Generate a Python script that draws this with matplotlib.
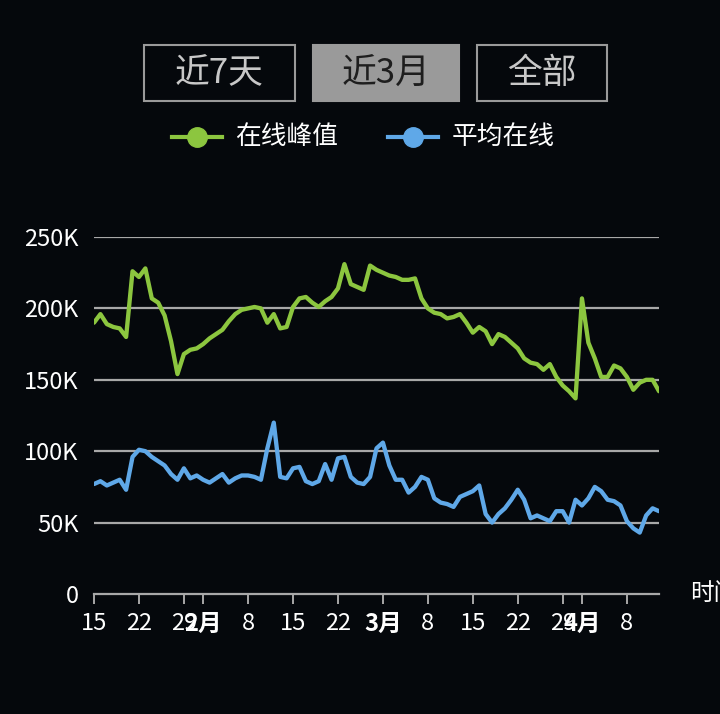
import numpy as np
import matplotlib.pyplot as plt
from matplotlib.patches import Rectangle
from matplotlib.lines import Line2D

plt.rcParams['font.family'] = ['Noto Sans CJK SC', 'DejaVu Sans']

# days counted from Jan 15
days = np.arange(89)

peak_online = [190, 196, 189, 187, 186, 180, 226, 222, 228, 207,
               204, 195, 177, 154, 168, 171, 172, 175, 179, 182,
               185, 191, 196, 199, 200, 201, 200, 190, 196, 186,
               187, 201, 207, 208, 204, 201, 205, 208, 214, 231,
               217, 215, 213, 230, 227, 225, 223, 222, 220, 220,
               221, 207, 200, 197, 196, 193, 194, 196, 190, 183,
               187, 184, 175, 182, 180, 176, 172, 165, 162, 161,
               157, 161, 152, 146, 142, 137, 207, 176, 165, 152,
               152, 160, 158, 152, 143, 148, 150, 150, 142]

avg_online = [77, 79, 76, 78, 80, 73, 96, 101, 100, 96,
              93, 90, 84, 80, 88, 81, 83, 80, 78, 81,
              84, 78, 81, 83, 83, 82, 80, 102, 120, 82,
              81, 88, 89, 79, 77, 79, 91, 80, 95, 96,
              82, 78, 77, 82, 102, 106, 90, 80, 80, 71,
              75, 82, 80, 67, 64, 63, 61, 68, 70, 72,
              76, 56, 50, 56, 60, 66, 73, 66, 53, 55,
              53, 51, 58, 58, 50, 66, 62, 67, 75, 72,
              66, 65, 62, 51, 46, 43, 55, 60, 58]

tick_days = [0, 7, 14, 17, 24, 31, 38, 45, 52, 59, 66, 73, 76, 83]
tick_labels = ['15', '22', '29', '2月', '8', '15', '22', '3月', '8', '15', '22', '29', '4月', '8']
month_ticks = ['2月', '3月', '4月']

y_ticks = [0, 50000, 100000, 150000, 200000, 250000]
y_labels = ['0', '50K', '100K', '150K', '200K', '250K']

buttons = ['近7天', '近3月', '全部']
series_names = ['在线峰值', '平均在线']

bg = '#05080c'
green = '#8cc63f'
blue = '#5fa8e8'
grid_c = '#a8a8a8'

fig = plt.figure(figsize=(7.2, 7.14), dpi=100, facecolor=bg)
W, H = 720, 714

ax = fig.add_axes([94 / W, 1 - 594 / H, 565 / W, 357 / H])
ax.set_facecolor(bg)

ax.plot(days, np.array(peak_online) * 1000, color=green, lw=3.1,
        solid_joinstyle='round', solid_capstyle='round', zorder=3)
ax.plot(days, np.array(avg_online) * 1000, color=blue, lw=3.1,
        solid_joinstyle='round', solid_capstyle='round', zorder=3)

ax.set_xlim(0, 88)
ax.set_ylim(0, 250000)
ax.set_yticks(y_ticks)
ax.set_yticklabels(y_labels)
ax.set_xticks(tick_days)
ax.set_xticklabels(tick_labels)
for lab in ax.get_xticklabels():
    if lab.get_text() in month_ticks:
        lab.set_fontweight('bold')

for v in y_ticks[1:]:
    ax.axhline(v, color=grid_c, lw=1.6, zorder=1)

for s in ['top', 'right', 'left']:
    ax.spines[s].set_visible(False)
ax.spines['bottom'].set_color(grid_c)
ax.spines['bottom'].set_linewidth(1.6)

ax.tick_params(axis='y', length=0, pad=11, labelsize=17, labelcolor='white')
ax.tick_params(axis='x', length=7, width=1.4, color=grid_c, pad=6,
               labelsize=17, labelcolor='white')

fig.text(690 / W, 1 - 594 / H, '时间', color='white', fontsize=17,
         ha='left', va='center')

# range buttons
boxes = [(144, 295), (313, 459), (477, 607)]
for (x0, x1), name in zip(boxes, buttons):
    active = name == '近3月'
    fig.add_artist(Rectangle((x0 / W, 1 - 101 / H), (x1 - x0) / W, 56 / H,
                             transform=fig.transFigure,
                             facecolor='#9a9a9a' if active else 'none',
                             edgecolor='#9a9a9a', lw=1.5))
    fig.text((x0 + x1) / 2 / W, 1 - 74 / H, name, fontsize=25,
             color='#1e1e1e' if active else '#c8c8c8',
             ha='center', va='center')

# legend
for (lx, tx), c, name in zip([(172, 235), (388, 452)], [green, blue], series_names):
    fig.add_artist(Line2D([lx / W, (lx + 50) / W], [1 - 137 / H, 1 - 137 / H],
                          transform=fig.transFigure, color=c, lw=3, zorder=5))
    fig.add_artist(Line2D([(lx + 25) / W], [1 - 137 / H], transform=fig.transFigure,
                          color=c, marker='o', markersize=14, lw=0))
    fig.text(tx / W, 1 - 137 / H, name, fontsize=18.5, color='white',
             ha='left', va='center')

plt.savefig('out.png', dpi=100, facecolor=bg)
